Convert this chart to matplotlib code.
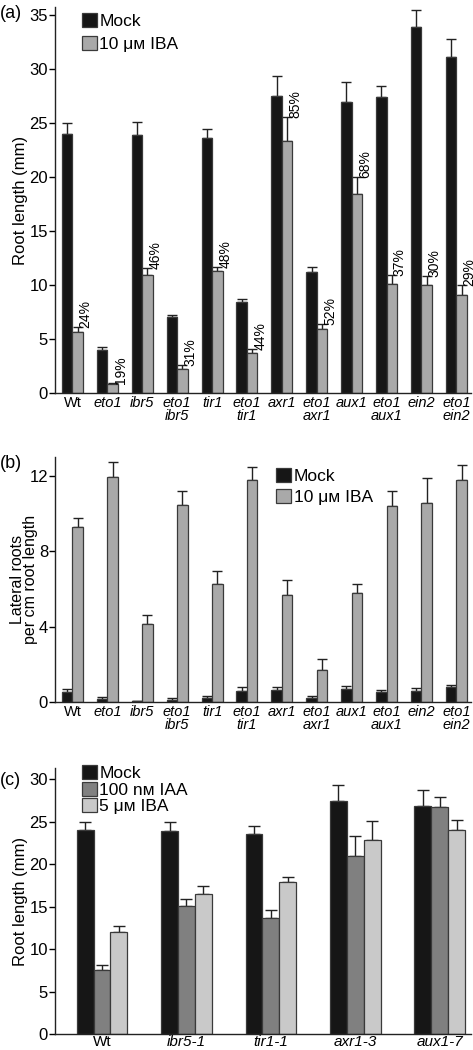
import matplotlib
matplotlib.use("Agg")
import matplotlib.pyplot as plt
from matplotlib.patches import Patch
import numpy as np

plt.rcParams['font.family'] = ['Liberation Sans', 'DejaVu Sans']

# ---------------- data ----------------
genotypes_ab = ["Wt", "eto1", "ibr5", "eto1\nibr5", "tir1", "eto1\ntir1", "axr1",
                "eto1\naxr1", "aux1", "eto1\naux1", "ein2", "eto1\nein2"]

a_mock = [24.0, 4.0, 23.9, 7.0, 23.55, 8.4, 27.45, 11.2, 26.95, 27.35, 33.85, 31.1]
a_mock_top = [25.0, 4.28, 25.05, 7.2, 24.45, 8.68, 29.3, 11.7, 28.8, 28.4, 35.45, 32.75]
a_iba = [5.65, 0.8, 10.9, 2.2, 11.3, 3.7, 23.35, 5.9, 18.4, 10.1, 10.0, 9.05]
a_iba_top = [6.07, 0.95, 11.6, 2.6, 11.65, 4.05, 25.55, 6.4, 20.0, 10.95, 10.85, 10.0]
a_pct = ["24%", "19%", "46%", "31%", "48%", "44%", "85%", "52%", "68%", "37%", "30%", "29%"]

b_mock = [0.53, 0.14, 0.07, 0.12, 0.21, 0.58, 0.64, 0.19, 0.71, 0.53, 0.6, 0.8]
b_mock_top = [0.69, 0.27, 0.08, 0.21, 0.3, 0.78, 0.78, 0.32, 0.87, 0.65, 0.72, 0.9]
b_iba = [9.28, 11.93, 4.15, 10.48, 6.25, 11.78, 5.67, 1.68, 5.81, 10.39, 10.55, 11.78]
b_iba_top = [9.75, 12.76, 4.6, 11.18, 6.93, 12.47, 6.45, 2.3, 6.27, 11.2, 11.9, 12.56]

genotypes_c = ["Wt", "ibr5-1", "tir1-1", "axr1-3", "aux1-7"]
c_mock = [24.03, 23.87, 23.52, 27.44, 26.86]
c_mock_top = [24.93, 25.0, 24.42, 29.25, 28.74]
c_iaa = [7.5, 15.08, 13.7, 20.97, 26.7]
c_iaa_top = [8.13, 15.86, 14.6, 23.3, 27.84]
c_iba = [12.01, 16.49, 17.94, 22.81, 23.95]
c_iba_top = [12.76, 17.47, 18.53, 25.05, 25.2]

# ---------------- style ----------------
C_MOCK = "#161616"
C_GRAY = "#a9a9a9"
C_IAA = "#808080"
C_LIGHT = "#c9c9c9"
EDGE = "#3a3a3a"
TICK_FS = 12
XLAB_FS = 10.5
YLAB_FS = 12
LEG_FS = 12.5

fig = plt.figure(figsize=(4.73, 10.5), dpi=100)


def style_axes(ax):
    for s in ["top", "right"]:
        ax.spines[s].set_visible(False)
    for s in ["left", "bottom"]:
        ax.spines[s].set_linewidth(1.0)
        ax.spines[s].set_color("#222222")
    ax.tick_params(axis="y", direction="out", length=4, width=1.0, labelsize=TICK_FS, pad=1)
    ax.tick_params(axis="x", length=0, labelsize=XLAB_FS, pad=2)


def draw_bars(ax, x, vals, tops, color, width, capsize):
    vals = np.asarray(vals)
    tops = np.asarray(tops)
    ax.bar(x, vals, width=width, color=color, edgecolor=EDGE, linewidth=0.9, zorder=2)
    ax.errorbar(x, vals, yerr=[np.zeros_like(vals), tops - vals], fmt="none",
                ecolor="#222222", elinewidth=1.0, capsize=capsize, capthick=1.0, zorder=1)


def set_xlabels(ax, x, labels):
    ax.set_xticks(x)
    ax.set_xticklabels(labels, linespacing=0.9)
    for t in ax.get_xticklabels():
        t.set_multialignment("center")
        if t.get_text() != "Wt":
            t.set_fontstyle("italic")


def legend(ax, handles, labels, anchor, spacing):
    ax.legend(handles, labels, loc="upper left", bbox_to_anchor=anchor,
              frameon=False, fontsize=LEG_FS, handlelength=0.85, handleheight=0.85,
              handletextpad=0.15, labelspacing=spacing, borderpad=0.0, borderaxespad=0.0)


XLIM_AB = (-0.5, 11.42)

# ---------------- panel (a) ----------------
ax1 = fig.add_axes([0.1163, 0.6257, 0.8795, 0.3676])
x = np.arange(len(genotypes_ab))
w = 0.3
draw_bars(ax1, x - w / 2, a_mock, a_mock_top, C_MOCK, w, 3.8)
draw_bars(ax1, x + w / 2, a_iba, a_iba_top, C_GRAY, w, 3.8)
for xi, top, p in zip(x + w / 2, a_iba_top, a_pct):
    ax1.text(xi + 0.03, top - 0.1, p, rotation=90, ha="left", va="bottom",
             fontsize=10)
ax1.set_xlim(*XLIM_AB)
ax1.set_ylim(0, 35.7)
ax1.set_yticks([0, 5, 10, 15, 20, 25, 30, 35])
ax1.set_ylabel("Root length (mm)", fontsize=YLAB_FS)
ax1.yaxis.set_label_coords(-0.066, 0.5)
set_xlabels(ax1, x, genotypes_ab)
style_axes(ax1)
h1 = [Patch(facecolor=C_MOCK, edgecolor=EDGE, linewidth=0.9),
      Patch(facecolor=C_GRAY, edgecolor=EDGE, linewidth=0.9)]
legend(ax1, h1, ["Mock", "10 μм IBA"], (0.065, 0.985), 0.4)

# ---------------- panel (b) ----------------
ax2 = fig.add_axes([0.1163, 0.3314, 0.8795, 0.2333])
draw_bars(ax2, x - w / 2, b_mock, b_mock_top, C_MOCK, w, 3.8)
draw_bars(ax2, x + w / 2, b_iba, b_iba_top, C_GRAY, w, 3.8)
ax2.set_xlim(*XLIM_AB)
ax2.set_ylim(0, 13.0)
ax2.set_yticks([0, 4, 8, 12])
ax2.set_ylabel("Lateral roots\nper cm root length", fontsize=11.5, linespacing=0.9)
ax2.yaxis.set_label_coords(-0.04, 0.5)
set_xlabels(ax2, x, genotypes_ab)
style_axes(ax2)
legend(ax2, h1, ["Mock", "10 μм IBA"], (0.532, 0.955), 0.3)

# ---------------- panel (c) ----------------
ax3 = fig.add_axes([0.1163, 0.01524, 0.8795, 0.2533])
xc = np.arange(len(genotypes_c))
wc = 0.2
draw_bars(ax3, xc - wc, c_mock, c_mock_top, C_MOCK, wc, 4.6)
draw_bars(ax3, xc, c_iaa, c_iaa_top, C_IAA, wc, 4.6)
draw_bars(ax3, xc + wc, c_iba, c_iba_top, C_LIGHT, wc, 4.6)
ax3.set_xlim(-0.556, 4.37)
ax3.set_ylim(0, 31.3)
ax3.set_yticks([0, 5, 10, 15, 20, 25, 30])
ax3.set_ylabel("Root length (mm)", fontsize=YLAB_FS)
ax3.yaxis.set_label_coords(-0.066, 0.5)
set_xlabels(ax3, xc, genotypes_c)
style_axes(ax3)
ax3.tick_params(axis="x", pad=1, labelsize=11)
h3 = [Patch(facecolor=C_MOCK, edgecolor=EDGE, linewidth=0.9),
      Patch(facecolor=C_IAA, edgecolor=EDGE, linewidth=0.9),
      Patch(facecolor=C_LIGHT, edgecolor=EDGE, linewidth=0.9)]
legend(ax3, h3, ["Mock", "100 nм IAA", "5 μм IBA"], (0.065, 1.01), 0.02)

# panel letters
fig.text(0.0, 0.987, "(a)", fontsize=13, ha="left", va="center")
fig.text(0.0, 0.559, "(b)", fontsize=13, ha="left", va="center")
fig.text(0.0, 0.257, "(c)", fontsize=13, ha="left", va="center")

fig.savefig("out.png", dpi=100)
